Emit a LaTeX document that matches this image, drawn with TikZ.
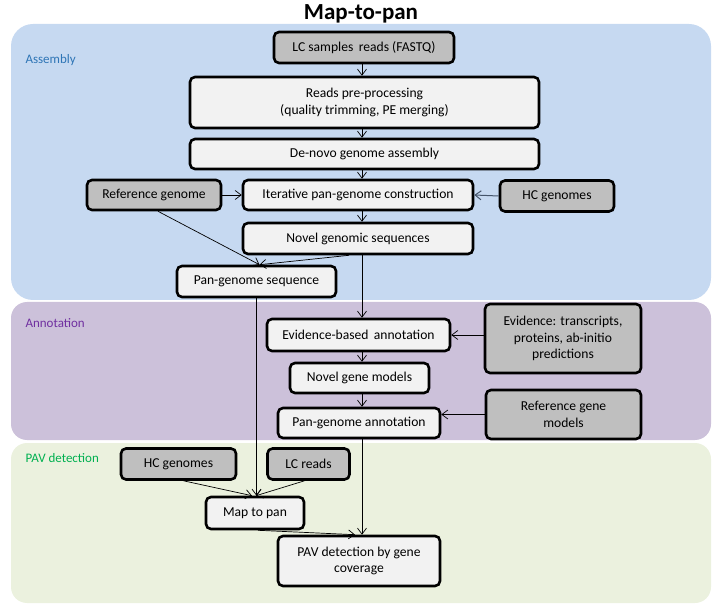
\documentclass[tikz,border=0pt]{standalone}
\usepackage{fontspec}
\setmainfont{Carlito}
\usetikzlibrary{arrows.meta}
\definecolor{assemblybg}{HTML}{C6D9F1}
\definecolor{annotbg}{HTML}{CCC1DA}
\definecolor{pavbg}{HTML}{EBF1DE}
\definecolor{assemblycol}{HTML}{2E75B6}
\definecolor{annotcol}{HTML}{7030A0}
\definecolor{pavcol}{HTML}{00B050}
\definecolor{boxwhite}{HTML}{F2F2F2}
\definecolor{boxgray}{HTML}{BFBFBF}
\definecolor{hcline}{HTML}{44546A}

\begin{document}
\begin{tikzpicture}[x=1pt,y=-1pt,
  box/.style={draw=black, line width=2.6pt, rounded corners=5pt, fill=boxwhite,
    align=center, inner sep=0pt, font=\fontsize{13.6}{16.5}\selectfont},
  inbox/.style={box, fill=boxgray},
  freccia/.style={-{Straight Barb[length=6pt,width=9pt]}, line width=0.7pt},
  fase/.style={anchor=west, font=\fontsize{13}{15}\selectfont}]
\useasboundingbox (0,0) rectangle (718,612);
%SFONDI
\fill[assemblybg, rounded corners=22pt] (11,24) rectangle (711,300);
\fill[annotbg, rounded corners=16pt] (11,302) rectangle (711,440);
\fill[pavbg, rounded corners=16pt] (11,443) rectangle (711,603);
%TITOLO E FASI
\node[font=\fontsize{23}{26}\selectfont\bfseries] (titolo) at (361,14) {Map-to-pan};
\node[fase, text=assemblycol] (lblass) at (22,60) {Assembly};
\node[fase, text=annotcol] (lblann) at (22,323) {Annotation};
\node[fase, text=pavcol] (lblpav) at (22,458) {PAV detection};
%NODI
\coordinate (col) at (362,0);
\node[inbox, minimum width=180pt, minimum height=31pt] (lc) at (364,47.5) {LC samples\, reads (FASTQ)};
\node[box, minimum width=349pt, minimum height=51pt] (reads) at (364.5,102.5) {Reads pre-processing\\(quality trimming, PE merging)};
\node[box, minimum width=349pt, minimum height=30pt] (denovo) at (364.5,154) {De-novo genome assembly};
\node[inbox, minimum width=134pt, minimum height=30pt] (ref) at (154,195) {Reference genome};
\node[box, minimum width=230pt, minimum height=30pt] (iter) at (358,195) {Iterative pan-genome construction};
\node[inbox, minimum width=114pt, minimum height=31pt] (hctop) at (557,196) {HC genomes};
\node[box, minimum width=230pt, minimum height=31pt] (novel) at (358,238.5) {Novel genomic sequences};
\node[box, minimum width=159pt, minimum height=31pt] (pansq) at (256.5,281.5) {Pan-genome sequence};
\node[box, minimum width=183pt, minimum height=32pt] (evb) at (358.5,335) {Evidence-based\, annotation};
\node[inbox, minimum width=156pt, minimum height=69pt] (evid) at (563,338.5) {Evidence: transcripts,\\proteins, ab-initio\\predictions};
\node[box, minimum width=139pt, minimum height=30pt] (ngm) at (359.5,378) {Novel gene models};
\node[box, minimum width=162pt, minimum height=30pt] (annot) at (359,423) {Pan-genome annotation};
\node[inbox, minimum width=155pt, minimum height=49pt] (refgm) at (563.5,414.5) {Reference gene\\models};
\node[inbox, minimum width=115pt, minimum height=31pt] (hcbot) at (178.5,464) {HC genomes};
\node[inbox, minimum width=82pt, minimum height=31pt] (lcreads) at (308.5,464) {LC reads};
\node[box, minimum width=98pt, minimum height=32pt] (map) at (255,513) {Map to pan};
\node[box, minimum width=162pt, minimum height=50pt] (pav) at (359,561) {PAV detection by gene\\coverage};
%FRECCE ASSEMBLY
\draw[freccia] (lc.south -| col) -- (reads.north -| col);
\draw[freccia] (reads.south -| col) -- (denovo.north -| col);
\draw[freccia] (denovo.south -| col) -- (iter.north -| col);
\draw[freccia] (ref.east) -- (iter.west);
\draw[freccia, draw=hcline, line width=1pt] (hctop.west) -- (iter.east);
\draw[freccia] (iter.south -| col) -- (novel.north -| col);
\draw[freccia] ([xshift=4pt]ref.south) -- ([xshift=3pt]pansq.north);
\draw[freccia] ([xshift=-9pt]novel.south) -- ([xshift=3pt]pansq.north);
%FRECCE ANNOTATION
\draw[freccia] (novel.south -| col) -- (evb.north -| col);
\draw[freccia] (evid.west |- evb.east) -- (evb.east);
\draw[freccia] (evb.south -| col) -- (ngm.north -| col);
\draw[freccia] (ngm.south -| col) -- (annot.north -| col);
\draw[freccia] (refgm.west) -- (refgm.west -| annot.east);
%FRECCE PAV
\draw[freccia] (pansq.south) -- (pansq.south |- map.north);
\draw[freccia] ([xshift=5pt]hcbot.south) -- ([xshift=-3pt]map.north);
\draw[freccia] ([xshift=-4pt]lcreads.south) -- ([xshift=1pt]map.north);
\draw[freccia] ([xshift=3pt]map.south) -- ([xshift=-4pt]pav.north);
\draw[freccia] (annot.south -| col) -- (pav.north -| col);
\end{tikzpicture}
\end{document}
